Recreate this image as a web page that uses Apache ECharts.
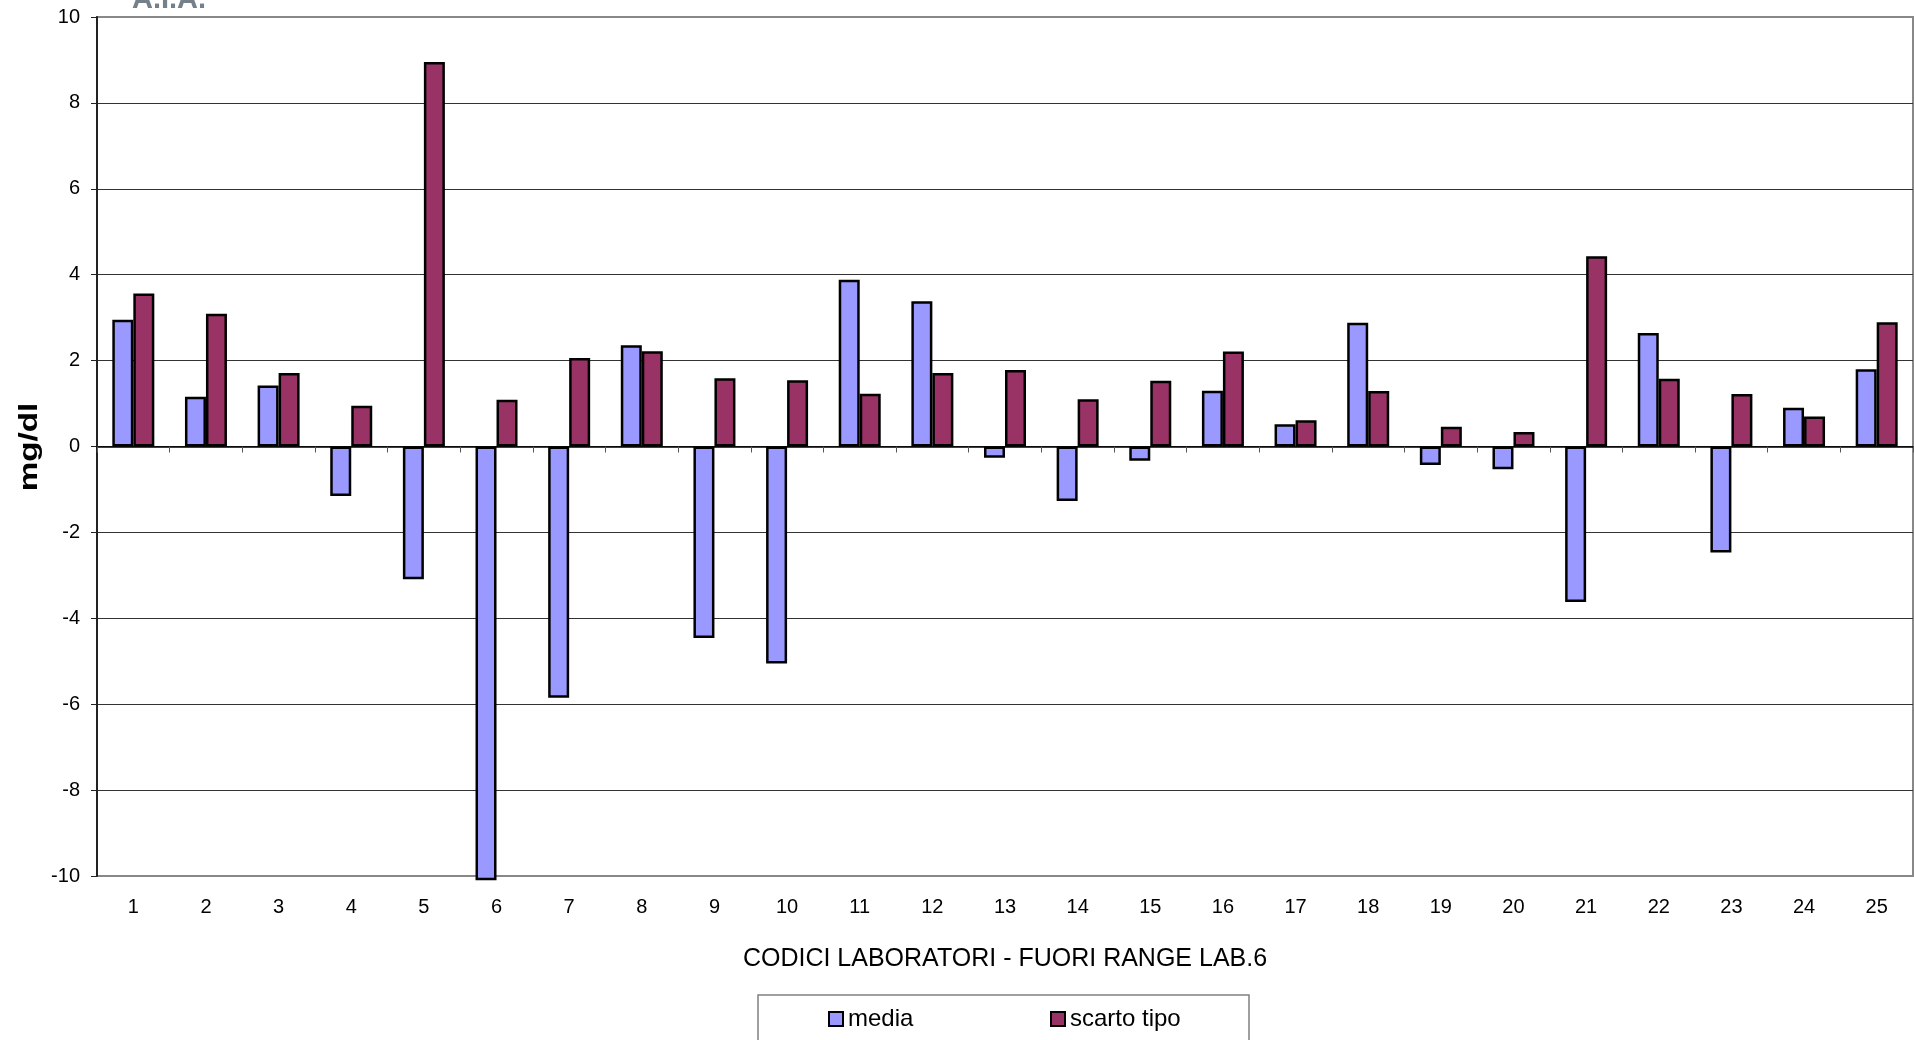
<!DOCTYPE html>
<html>
<head>
<meta charset="utf-8">
<title>CODICI LABORATORI - FUORI RANGE LAB.6</title>
<script src="https://cdn.jsdelivr.net/npm/echarts@6/dist/echarts.min.js"></script>
<style>
  html, body { margin: 0; padding: 0; background: #fff; }
  #chart { width: 1914px; height: 1040px; }
</style>
</head>
<body>
<div id="chart"></div>
<script>
// Laboratory codes along the category axis
const categories = ['1','2','3','4','5','6','7','8','9','10','11','12','13',
  '14','15','16','17','18','19','20','21','22','23','24','25'];

// Mean deviation per laboratory (mg/dl)
const media = [2.95, 1.16, 1.42, -1.15, -3.09, -10.1, -5.85, 2.36, -4.46, -5.05,
  3.88, 3.38, -0.26, -1.27, -0.33, 1.30, 0.52, 2.88, -0.43, -0.53,
  -3.62, 2.64, -2.47, 0.90, 1.80];

// Standard deviation per laboratory (mg/dl)
const scartoTipo = [3.56, 3.09, 1.71, 0.95, 8.95, 1.09, 2.06, 2.22, 1.59, 1.54,
  1.23, 1.71, 1.78, 1.10, 1.53, 2.21, 0.61, 1.29, 0.46, 0.34,
  4.43, 1.58, 1.22, 0.70, 2.89];

// Value axis ticks
const yTicks = [-10, -8, -6, -4, -2, 0, 2, 4, 6, 8, 10];

const seriesNames = ['media', 'scarto tipo'];
const FONT = '"Liberation Sans", Arial, sans-serif';

const chart = echarts.init(document.getElementById('chart'), null, { renderer: 'canvas' });

const barStyle = (color) => ({
  color: color,
  borderColor: '#000',
  borderWidth: 2.5
});

const option = {
  animation: false,
  backgroundColor: '#fff',
  textStyle: { fontFamily: FONT, color: '#000' },
  grid: {
    left: 97, right: 1, top: 17, bottom: 164,
    show: true,
    borderColor: '#888',
    borderWidth: 2,
    backgroundColor: 'transparent'
  },
  xAxis: [
    {
      // axis line through zero with boundary ticks
      type: 'category',
      data: categories,
      position: 'bottom',
      boundaryGap: true,
      axisLine: { show: true, onZero: true, lineStyle: { color: '#000', width: 1.5 } },
      axisTick: { show: true, interval: 0, length: 6, lineStyle: { color: '#555', width: 1 } },
      axisLabel: { show: false },
      splitLine: { show: false },
      z: 5
    },
    {
      // category labels along the bottom of the plot area
      type: 'category',
      data: categories,
      position: 'bottom',
      boundaryGap: true,
      axisLine: { show: false, onZero: false },
      axisTick: { show: false },
      axisLabel: { show: true, interval: 0, margin: 21, fontSize: 20, color: '#000', fontFamily: FONT },
      splitLine: { show: false },
      name: 'CODICI LABORATORI - FUORI RANGE LAB.6',
      nameLocation: 'middle',
      nameGap: 71,
      nameTextStyle: { fontSize: 25, color: '#000', fontFamily: FONT }
    }
  ],
  yAxis: {
    type: 'value',
    min: yTicks[0],
    max: yTicks[yTicks.length - 1],
    interval: yTicks[1] - yTicks[0],
    axisLine: { show: true, lineStyle: { color: '#222', width: 2 } },
    axisTick: { show: true, length: 6, lineStyle: { color: '#222', width: 1 } },
    axisLabel: { margin: 17, fontSize: 20, color: '#000', fontFamily: FONT },
    splitLine: { show: true, showMinLine: false, showMaxLine: false, lineStyle: { color: '#333', width: 1.2 } }
  },
  legend: [
    {
      data: [seriesNames[0]],
      left: 828, top: 1007, padding: 0,
      icon: 'rect', itemWidth: 14, itemHeight: 14,
      textStyle: { fontSize: 24, color: '#000', fontFamily: FONT },
      selectedMode: false
    },
    {
      data: [seriesNames[1]],
      left: 1050, top: 1007, padding: 0,
      icon: 'rect', itemWidth: 14, itemHeight: 14,
      textStyle: { fontSize: 24, color: '#000', fontFamily: FONT },
      selectedMode: false
    }
  ],
  graphic: [
    {
      type: 'rect', z: 0,
      shape: { x: 758, y: 995, width: 491, height: 70 },
      style: { fill: '#fff', stroke: '#808080', lineWidth: 1.5 }
    },
    {
      type: 'text', z: 10,
      x: 132, y: 0,
      style: { text: 'A.I.A.', font: 'bold 29px ' + FONT, fill: '#75818a', verticalAlign: 'middle', align: 'left' }
    },
    {
      type: 'text', z: 10,
      x: 30, y: 447,
      rotation: Math.PI / 2,
      scaleX: 1.28,
      style: { text: 'mg/dl', font: 'bold 26px ' + FONT, fill: '#000', align: 'center', verticalAlign: 'middle' }
    }
  ],
  series: [
    {
      name: seriesNames[0],
      type: 'bar',
      xAxisIndex: 0,
      data: media,
      barWidth: 21,
      barGap: '0%',
      clip: false,
      itemStyle: barStyle('#9999ff'),
      emphasis: { disabled: true }
    },
    {
      name: seriesNames[1],
      type: 'bar',
      xAxisIndex: 0,
      data: scartoTipo,
      barWidth: 21,
      barGap: '0%',
      clip: false,
      itemStyle: barStyle('#993366'),
      emphasis: { disabled: true }
    }
  ]
};

chart.setOption(option);
</script>
</body>
</html>
